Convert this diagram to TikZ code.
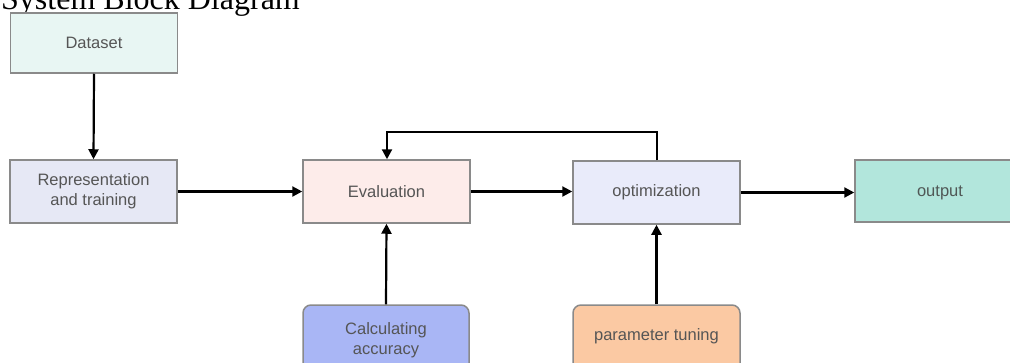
\documentclass[tikz,border=0pt]{standalone}
\usepackage{fontspec}
\setmainfont{Liberation Serif}
\newfontfamily\boxfont{Liberation Sans}
\usetikzlibrary{arrows.meta}
\definecolor{cData}{HTML}{E8F6F3}
\definecolor{cRep}{HTML}{E6E8F5}
\definecolor{cEval}{HTML}{FDECEA}
\definecolor{cOpt}{HTML}{E9EBFA}
\definecolor{cOut}{HTML}{B2E6DC}
\definecolor{cAcc}{HTML}{A9B6F5}
\definecolor{cPar}{HTML}{FBC9A3}
\definecolor{cBorder}{HTML}{8A8A8A}
\definecolor{cText}{HTML}{555555}
\tikzset{
  blk/.style={draw=cBorder, line width=1.5pt, minimum width=167pt, minimum height=62pt,
    inner sep=0pt, align=center, text=cText,
    font=\boxfont\fontsize{16.5}{20}\selectfont},
  rblk/.style={blk, rounded corners=8pt},
  conn/.style={draw=black, line width=2.2pt, -{Triangle[length=10pt,width=10pt]}},
}
\begin{document}
\begin{tikzpicture}[x=1pt,y=-1pt]
\useasboundingbox (0,0) rectangle (1010,362);
\clip (0,0) rectangle (1010,362);
\node[anchor=base west, inner sep=0pt, font=\fontsize{32}{36}\selectfont] (title) at (1,9) {System Block Diagram};
\node[blk, fill=cData, minimum height=60pt] (data) at (94,43) {Dataset};
\node[blk, fill=cRep, minimum height=63pt] (rep) at (93.5,191.5) {Representation\\and training};
\node[blk, fill=cEval, minimum height=63pt] (eval) at (386.5,191.5) {Evaluation};
\node[blk, fill=cOpt, minimum height=63pt] (opt) at (656.5,192.5) {optimization};
\node[blk, fill=cOut, minimum width=170pt, text height=12pt, text depth=2pt, text=black!60!cOut!40!cText] (out) at (940,191) {output};
\node[rblk, fill=cAcc, minimum width=166pt, minimum height=70pt] (acc) at (386,340) {Calculating\\accuracy};
\node[rblk, fill=cPar, minimum width=167pt, minimum height=70pt] (par) at (656.5,340) {};
\node[text=cText, font=\boxfont\fontsize{16.5}{20}\selectfont] (partext) at (656.5,336) {\strut parameter tuning};
\coordinate (fbR) at (657,132);
\coordinate (fbL) at (387,132);
\draw[conn] (data.south) -- (rep.north);
\draw[conn] (rep.east) -- (eval.west);
\draw[conn] (eval.east) -- (opt.west |- eval.east);
\draw[conn] (opt.east) -- (out.west |- opt.east);
\draw[conn] (opt.north -| fbR) -- (fbR) -- (fbL) -- (eval.north -| fbL);
\draw[conn] (acc.north) -- (eval.south);
\draw[conn] (par.north) -- (opt.south);
\end{tikzpicture}
\end{document}
